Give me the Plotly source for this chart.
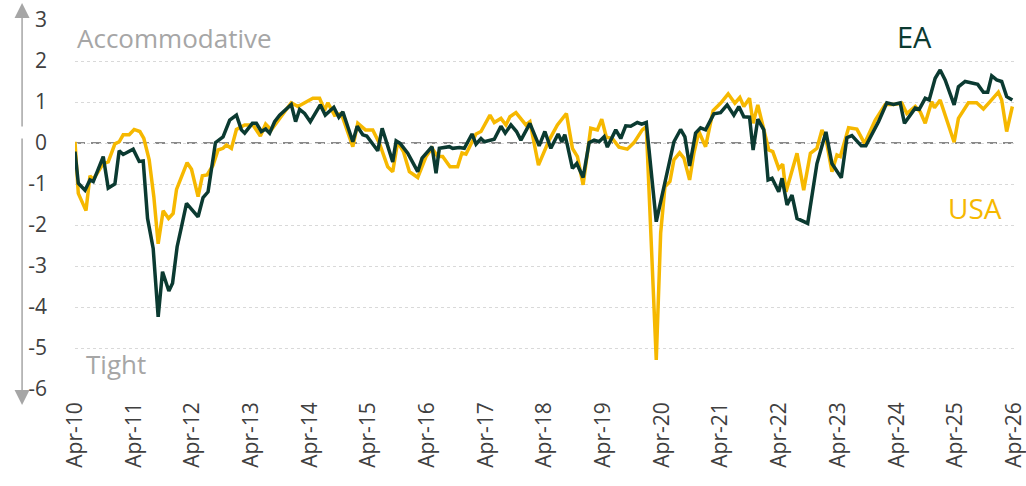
import plotly.graph_objects as go

# Decimal-year time stamps and values
ea_t = [2010.25, 2010.306, 2010.42, 2010.505, 2010.561, 2010.731, 2010.816, 2010.93, 2011.003, 2011.071,
        2011.241, 2011.344, 2011.412, 2011.486, 2011.582, 2011.667, 2011.741, 2011.849, 2011.912, 2011.99,
        2012.065, 2012.15, 2012.347, 2012.432, 2012.517, 2012.643, 2012.772, 2012.886, 2013.0, 2013.085,
        2013.141, 2013.272, 2013.34, 2013.425, 2013.498, 2013.566, 2013.651, 2013.736, 2013.935, 2014.008,
        2014.077, 2014.162, 2014.259, 2014.429, 2014.514, 2014.66, 2014.745, 2014.813, 2014.983, 2015.058,
        2015.153, 2015.221, 2015.408, 2015.483, 2015.663, 2015.721, 2015.789, 2015.919, 2016.089, 2016.163,
        2016.333, 2016.401, 2016.457, 2016.628, 2016.684, 2016.798, 2016.883, 2017.014, 2017.082, 2017.167,
        2017.223, 2017.393, 2017.507, 2017.58, 2017.677, 2017.772, 2017.847, 2018.0, 2018.158, 2018.255,
        2018.357, 2018.481, 2018.544, 2018.595, 2018.639, 2018.725, 2018.799, 2018.907, 2019.009, 2019.094,
        2019.179, 2019.264, 2019.32, 2019.463, 2019.548, 2019.633, 2019.718, 2019.83, 2019.905, 2019.983,
        2020.153, 2020.255, 2020.454, 2020.568, 2020.641, 2020.721, 2020.823, 2020.908, 2020.993, 2021.134,
        2021.248, 2021.361, 2021.475, 2021.56, 2021.645, 2021.742, 2021.803, 2021.883, 2021.985, 2022.058,
        2022.126, 2022.24, 2022.296, 2022.381, 2022.466, 2022.551, 2022.733, 2022.891, 2023.044, 2023.146,
        2023.306, 2023.401, 2023.486, 2023.646, 2023.724, 2023.94, 2024.081, 2024.195, 2024.309, 2024.382,
        2024.479, 2024.565, 2024.633, 2024.735, 2024.803, 2024.905, 2024.99, 2025.075, 2025.228, 2025.301,
        2025.415, 2025.528, 2025.63, 2025.727, 2025.8, 2025.868, 2025.953, 2026.038, 2026.123, 2026.22]
ea_v = [-0.21, -0.98, -1.15, -0.90, -0.94, -0.33, -1.10, -1.00, -0.19, -0.28,
        -0.15, -0.45, -0.44, -1.84, -2.57, -4.24, -3.14, -3.61, -3.42, -2.53,
        -2.04, -1.47, -1.80, -1.33, -1.19, 0.01, 0.15, 0.56, 0.68, 0.32,
        0.24, 0.48, 0.48, 0.28, 0.34, 0.24, 0.52, 0.68, 0.94, 0.52,
        0.82, 0.72, 0.52, 0.93, 0.68, 0.87, 0.63, 0.76, 0.03, 0.41,
        0.20, 0.17, -0.19, 0.36, -0.46, 0.05, -0.01, -0.25, -0.70, -0.37,
        -0.09, -0.74, -0.13, -0.09, -0.13, -0.11, -0.13, 0.22, -0.03, 0.11,
        0.03, 0.09, 0.41, 0.24, 0.44, 0.28, 0.07, 0.48, -0.07, 0.28,
        -0.13, 0.22, 0.03, 0.20, -0.05, -0.62, -0.50, -0.84, 0.01, 0.07,
        0.03, 0.15, -0.10, 0.32, 0.11, 0.42, 0.41, 0.50, 0.46, 0.50,
        -1.92, -1.23, 0.03, 0.33, 0.15, -0.56, 0.24, 0.37, 0.32, 0.71,
        0.74, 0.93, 0.68, 0.89, 0.64, 0.63, -0.17, 0.58, 0.32, -0.90,
        -0.86, -1.19, -0.86, -1.51, -1.27, -1.84, -1.96, -0.50, 0.27, -0.50,
        -0.85, 0.13, 0.18, -0.07, -0.07, 0.52, 0.98, 0.94, 0.98, 0.48,
        0.68, 0.85, 0.82, 1.09, 1.05, 1.58, 1.78, 1.54, 0.93, 1.37,
        1.50, 1.47, 1.43, 1.24, 1.24, 1.64, 1.54, 1.50, 1.13, 1.05]

usa_t = [2010.25, 2010.306, 2010.437, 2010.505, 2010.561, 2010.731, 2010.816, 2010.93, 2011.003, 2011.071,
         2011.173, 2011.258, 2011.355, 2011.423, 2011.514, 2011.593, 2011.667, 2011.752, 2011.844, 2011.922,
         2011.98, 2012.16, 2012.235, 2012.347, 2012.42, 2012.5, 2012.602, 2012.687, 2012.772, 2012.83,
         2012.915, 2013.0, 2013.141, 2013.282, 2013.408, 2013.498, 2013.595, 2013.792, 2013.935, 2014.048,
         2014.162, 2014.303, 2014.417, 2014.502, 2014.558, 2014.672, 2014.786, 2014.983, 2015.068, 2015.199,
         2015.323, 2015.437, 2015.578, 2015.663, 2015.748, 2015.845, 2015.947, 2016.089, 2016.231, 2016.333,
         2016.429, 2016.514, 2016.639, 2016.769, 2016.843, 2016.911, 2017.082, 2017.167, 2017.32, 2017.393,
         2017.507, 2017.592, 2017.66, 2017.762, 2017.932, 2018.0, 2018.146, 2018.328, 2018.469, 2018.622,
         2018.725, 2018.81, 2018.907, 2019.037, 2019.15, 2019.224, 2019.303, 2019.405, 2019.518, 2019.66,
         2019.774, 2019.915, 2019.983, 2020.153, 2020.228, 2020.301, 2020.386, 2020.454, 2020.551, 2020.624,
         2020.721, 2020.794, 2020.879, 2020.993, 2021.122, 2021.248, 2021.378, 2021.492, 2021.577, 2021.645,
         2021.742, 2021.803, 2021.883, 2021.968, 2022.07, 2022.138, 2022.24, 2022.307, 2022.364, 2022.551,
         2022.665, 2022.779, 2022.891, 2022.976, 2023.044, 2023.146, 2023.231, 2023.289, 2023.43, 2023.571,
         2023.702, 2023.884, 2024.054, 2024.195, 2024.337, 2024.422, 2024.565, 2024.65, 2024.735, 2024.847,
         2024.893, 2024.99, 2025.102, 2025.228, 2025.301, 2025.471, 2025.612, 2025.727, 2025.84, 2025.981,
         2026.038, 2026.123, 2026.22]
usa_v = [0.03, -1.23, -1.65, -0.80, -0.89, -0.50, -0.46, -0.02, 0.03, 0.20,
         0.20, 0.33, 0.28, 0.11, -0.41, -1.31, -2.46, -1.65, -1.84, -1.72,
         -1.13, -0.48, -0.64, -1.31, -0.80, -0.78, -0.54, -0.17, -0.13, -0.05,
         -0.13, 0.33, 0.44, 0.44, 0.17, 0.46, 0.32, 0.72, 0.98, 0.89,
         0.97, 1.09, 1.09, 0.80, 0.98, 0.68, 0.72, -0.09, 0.48, 0.32,
         0.32, -0.01, -0.58, -0.70, 0.03, -0.21, -0.70, -0.84, -0.33, -0.13,
         -0.33, -0.33, -0.58, -0.58, -0.24, -0.27, 0.22, 0.28, 0.68, 0.50,
         0.60, 0.44, 0.64, 0.74, 0.44, 0.52, -0.54, 0.07, 0.44, 0.72,
         -0.13, -0.33, -1.02, 0.36, 0.32, 0.58, 0.14, 0.11, -0.10, -0.15,
         0.01, 0.32, 0.40, -5.29, -2.20, -1.07, -0.94, -0.41, -0.24, -0.37,
         -0.90, -0.25, 0.28, -0.09, 0.79, 0.97, 1.20, 0.97, 1.11, 0.89,
         1.09, 0.48, 0.93, 0.40, -0.17, -0.21, -0.62, -0.52, -1.19, -0.25,
         -1.15, -0.25, -0.13, 0.32, 0.11, -0.70, -0.29, -0.33, 0.37, 0.34,
         -0.01, 0.56, 0.94, 0.94, 0.97, 0.72, 0.89, 0.76, 0.48, 1.01,
         0.86, 1.05, 0.56, 0.02, 0.60, 0.98, 0.98, 0.83, 1.01, 1.24,
         1.05, 0.28, 0.89]

x_tick_vals = [2010.25 + i for i in range(17)]
x_tick_text = ["Apr-%02d" % (10 + i) for i in range(17)]
y_tick_vals = [3, 2, 1, 0, -1, -2, -3, -4, -5, -6]
y_tick_text = ["3", "2", "1", "0", "-1", "-2", "-3", "-4", "-5", "-6"]

EA_COLOR = "#0b3a31"
USA_COLOR = "#f6b800"
FONT = "Open Sans"

fig = go.Figure()
fig.add_trace(go.Scatter(x=usa_t, y=usa_v, mode="lines", name="USA",
                         line=dict(color=USA_COLOR, width=3.5)))
fig.add_trace(go.Scatter(x=ea_t, y=ea_v, mode="lines", name="EA",
                         line=dict(color=EA_COLOR, width=3.5)))

fig.add_shape(type="line", xref="paper", yref="y", x0=0, x1=1, y0=0, y1=0,
              line=dict(color="#8a8a8a", width=2, dash="10px,6px"), layer="below")

ann = [
    dict(text="Accommodative", x=0, y=2.55, xref="paper", yref="y", xanchor="left",
         showarrow=False, font=dict(size=26, color="#a6a6a6", family=FONT)),
    dict(text="Tight", x=0.01, y=-5.4, xref="paper", yref="y", xanchor="left",
         showarrow=False, font=dict(size=26, color="#a6a6a6", family=FONT)),
    dict(text="EA", x=2024.55, y=2.6, xref="x", yref="y", xanchor="center",
         showarrow=False, font=dict(size=29, color=EA_COLOR, family=FONT)),
    dict(text="USA", x=2025.59, y=-1.58, xref="x", yref="y", xanchor="center",
         showarrow=False, font=dict(size=28, color=USA_COLOR, family=FONT)),
    dict(text="", x=-0.0563, y=1.046, xref="paper", yref="paper", showarrow=True,
         ax=0, ay=125, arrowhead=2, arrowsize=2, arrowwidth=1.5, arrowcolor="#a6a6a6"),
    dict(text="", x=-0.0563, y=-0.0434, xref="paper", yref="paper", showarrow=True,
         ax=0, ay=-268, arrowhead=2, arrowsize=2, arrowwidth=1.5, arrowcolor="#a6a6a6"),
]

fig.update_layout(
    width=1026, height=486,
    margin=dict(l=75, r=11, t=20, b=97, autoexpand=False),
    paper_bgcolor="white", plot_bgcolor="white",
    showlegend=False,
    font=dict(family=FONT, color="#404040"),
    annotations=ann,
    xaxis=dict(range=[2010.25, 2026.265], tickvals=x_tick_vals, ticktext=x_tick_text,
               tickangle=-90, showgrid=False, zeroline=False, showline=False,
               ticks="", tickfont=dict(size=21, color="#404040"), ticklabelstandoff=8,
               ticklabeloverflow="allow", automargin=False),
    yaxis=dict(range=[-6, 3], tickvals=y_tick_vals, ticktext=y_tick_text,
               showgrid=True, gridcolor="#d9d9d9", griddash="dot", gridwidth=1,
               zeroline=False, showline=False, ticks="", automargin=False,
               tickfont=dict(size=21, color="#404040"), ticklabelstandoff=27),
)

fig.write_html("out.html", config={"displayModeBar": False},
               post_script="document.body.style.margin='0';")
